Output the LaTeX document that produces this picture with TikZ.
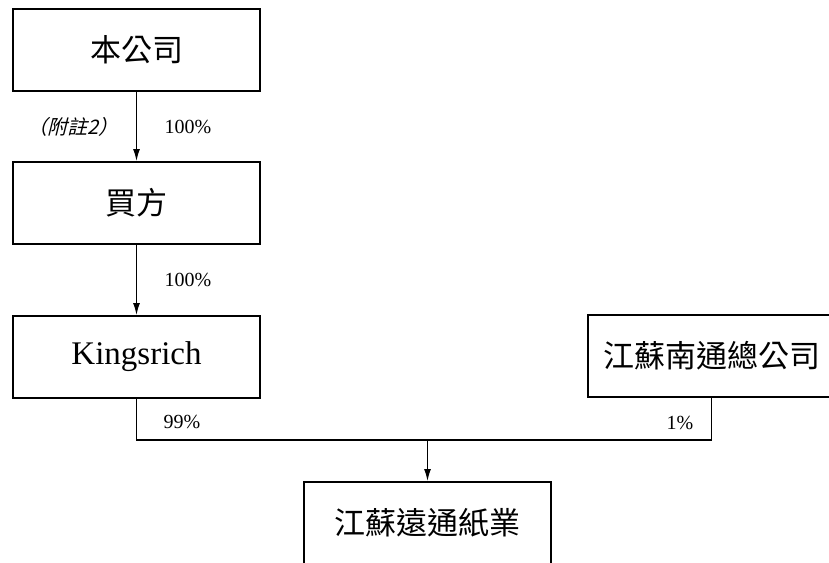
\documentclass[tikz,border=0pt]{standalone}
\usepackage{fontspec}
\setmainfont{Liberation Serif}
\newfontfamily\cjk{Noto Sans CJK TC}
\newfontfamily\cjkit[FakeSlant=0.25]{Noto Sans CJK TC}
\usetikzlibrary{arrows.meta}
\begin{document}
\begin{tikzpicture}[x=1pt,y=-1pt,
  entity/.style={draw,line width=2pt,minimum width=247pt,minimum height=82pt,inner sep=0pt,font=\fontsize{31}{36}\selectfont},
  link/.style={line width=1.2pt},
  linkarrow/.style={line width=1.2pt,-{Latex[length=12pt,width=7pt]}},
  pct/.style={font=\fontsize{20}{24}\selectfont,inner sep=0pt}]
\useasboundingbox (0,0) rectangle (829,562);
\clip (0,0) rectangle (829,562);
\node[entity] (b1) at (136.5,50) {\cjk 本公司};
\node[entity] (b2) at (136.5,203) {\cjk 買方};
\node[entity] (b3) at (136.5,357) {\fontsize{33}{38}\selectfont Kingsrich};
\node[entity] (b4) at (711.5,356) {\cjk 江蘇南通總公司};
\node[entity] (b5) at (427.5,523) {\cjk 江蘇遠通紙業};
\draw[linkarrow] (b1.south) -- (b2.north);
\draw[linkarrow] (b2.south) -- (b3.north);
\coordinate (jl) at (136.5,440);
\coordinate (jr) at (711.5,440);
\coordinate (jm) at (427.5,440);
\draw[link] (b3.south) -- (jl) -- (jr) -- (b4.south);
\draw[linkarrow] (jm) -- (b5.north);
\node[pct] (p1) at (188,127) {100\%};
\node[pct] (n1) at (73,127) {\cjkit （附註2）};
\node[pct] (p2) at (188,280) {100\%};
\node[pct] (p3) at (182,422) {99\%};
\node[pct] (p4) at (680,423) {1\%};
\end{tikzpicture}
\end{document}
